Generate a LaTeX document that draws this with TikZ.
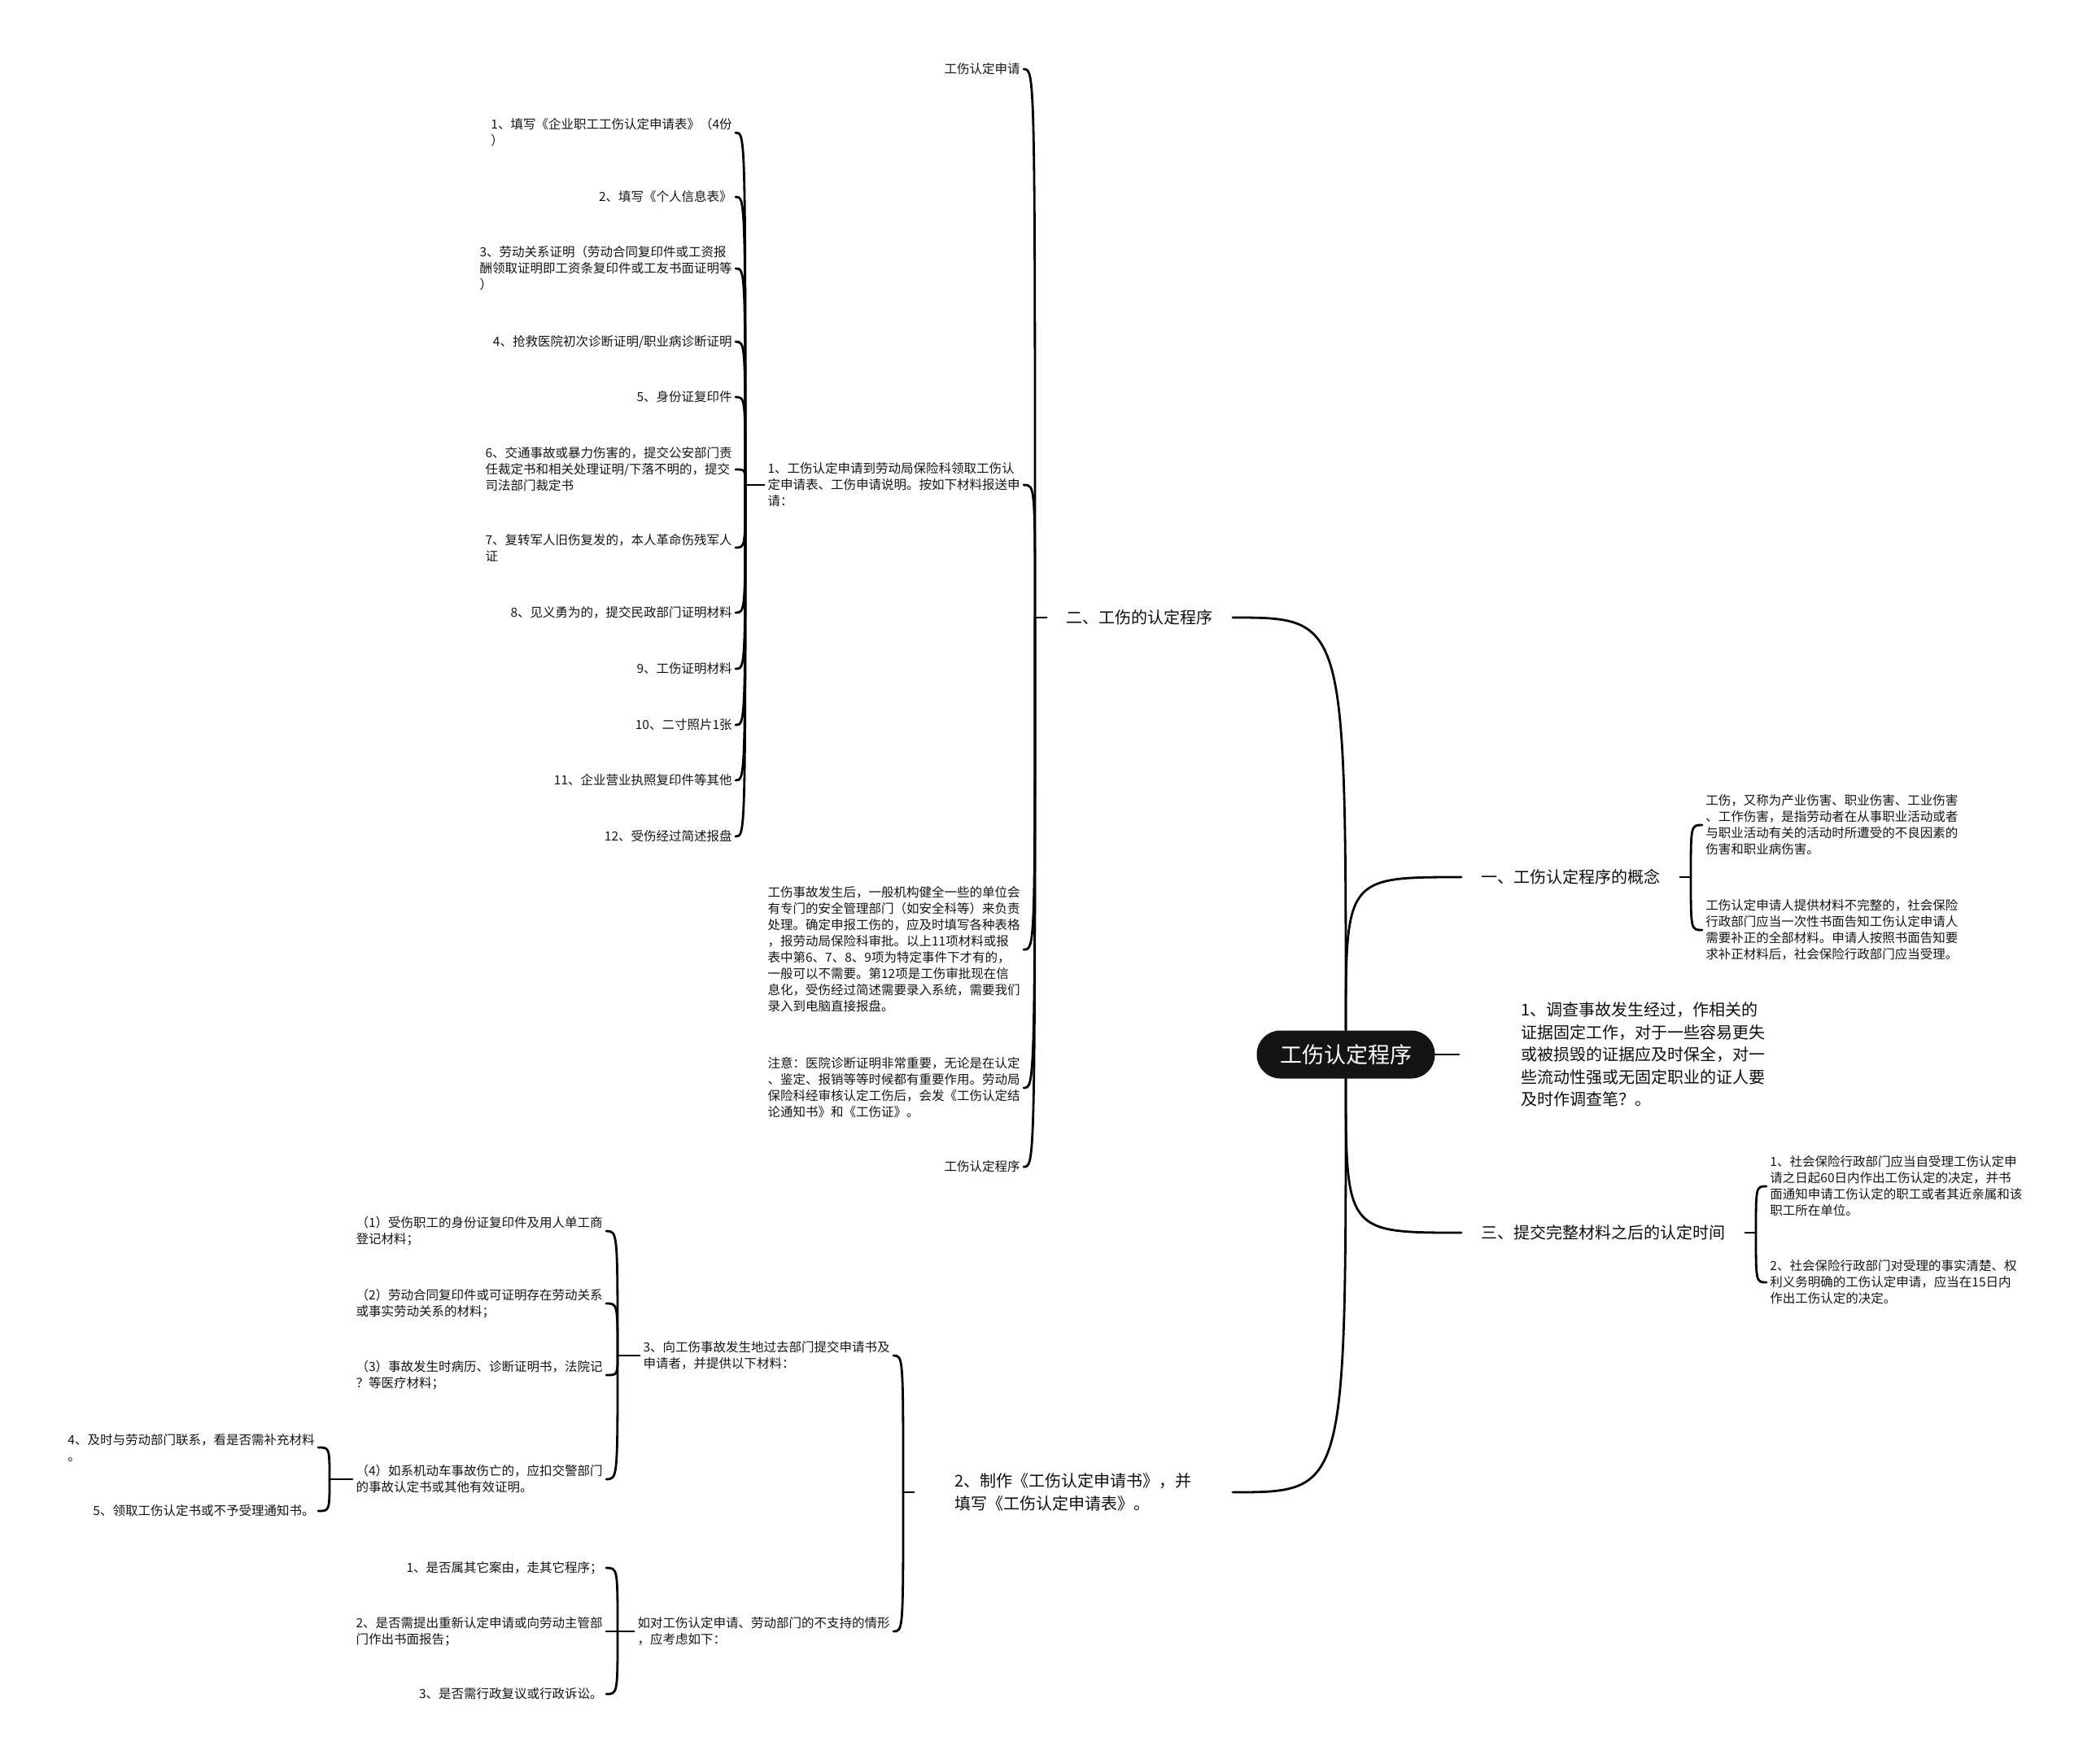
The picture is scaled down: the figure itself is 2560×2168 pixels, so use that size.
\documentclass[tikz,border=0pt]{standalone}
\usepackage{fontspec}
\setmainfont{Noto Sans CJK SC}

\begin{document}
\begin{tikzpicture}[x=0.5pt, y=-0.5pt,
        link/.style={line width=1.4pt, line cap=round},
        small/.style={font=\fontsize{7.75}{10}\selectfont, align=left, inner sep=2pt, text=black!92},
        mid/.style={font=\fontsize{10}{13.75}\selectfont, align=left, inner xsep=12pt, inner ysep=2pt, text=black!95},
        rootbox/.style={fill=black!92, text=white, rounded corners=14.5pt, minimum width=109.5pt,
            minimum height=29.5pt, font=\fontsize{13.5}{16}\selectfont}]

        \useasboundingbox (0,0) rectangle (2560,2168);

        \node[rootbox] (root) at (1654,1296) {工伤认定程序};

        \node[mid, anchor=west] (yi) at (1796,1078) {一、工伤认定程序的概念};
        \node[mid, anchor=east] (er) at (1515,759) {二、工伤的认定程序};
        \node[mid, anchor=west, inner xsep=38pt] (diaocha) at (1793,1296)
            {1、调查事故发生经过，作相关的\\证据固定工作，对于一些容易更失\\或被损毁的证据应及时保全，对一\\些流动性强或无固定职业的证人要\\及时作调查笔？。};
        \node[mid, anchor=west] (san) at (1796,1515) {三、提交完整材料之后的认定时间};
        \node[mid, anchor=east, inner xsep=25pt] (zhizuo) at (1515,1834)
            {2、制作《工伤认定申请书》，并\\填写《工伤认定申请表》。};

        \draw[link] (root.north) .. controls (root.north |- yi.west) .. (yi.west);
        \draw[link] (root.north) .. controls (root.north |- er.east) .. (er.east);
        \draw[link] (root.east) -- (diaocha.west);
        \draw[link] (root.south) .. controls (root.south |- san.west) .. (san.west);
        \draw[link] (root.south) .. controls (root.south |- zhizuo.east) .. (zhizuo.east);

        \coordinate (byi) at (2078,1078);
        \coordinate (ber) at (1272,759);
        \coordinate (bsan) at (2158,1515);
        \coordinate (bzz) at (1110,1834);
        \coordinate (bcl) at (916,596);
        \coordinate (btj) at (759,1666);
        \coordinate (blx) at (405,1818);
        \coordinate (bkl) at (759,2005);

        \node[small, anchor=west] (yi1) at (2092,1014) {工伤，又称为产业伤害、职业伤害、工业伤害\\、工作伤害，是指劳动者在从事职业活动或者\\与职业活动有关的活动时所遭受的不良因素的\\伤害和职业病伤害。};
        \node[small, anchor=west] (yi2) at (2092,1143) {工伤认定申请人提供材料不完整的，社会保险\\行政部门应当一次性书面告知工伤认定申请人\\需要补正的全部材料。申请人按照书面告知要\\求补正材料后，社会保险行政部门应当受理。};

        \node[small, anchor=west] (san1) at (2171,1458) {1、社会保险行政部门应当自受理工伤认定申\\请之日起60日内作出工伤认定的决定，并书\\面通知申请工伤认定的职工或者其近亲属和该\\职工所在单位。};
        \node[small, anchor=west] (san2) at (2171,1576) {2、社会保险行政部门对受理的事实清楚、权\\利义务明确的工伤认定申请，应当在15日内\\作出工伤认定的决定。};

        \node[small, anchor=east] (er1) at (1258,85) {工伤认定申请};
        \node[small, anchor=east] (er2) at (1258,596) {1、工伤认定申请到劳动局保险科领取工伤认\\定申请表、工伤申请说明。按如下材料报送申\\请：};
        \node[small, anchor=east] (er3) at (1258,1167) {工伤事故发生后，一般机构健全一些的单位会\\有专门的安全管理部门（如安全科等）来负责\\处理。确定申报工伤的，应及时填写各种表格\\，报劳动局保险科审批。以上11项材料或报\\表中第6、7、8、9项为特定事件下才有的，\\一般可以不需要。第12项是工伤审批现在信\\息化，受伤经过简述需要录入系统，需要我们\\录入到电脑直接报盘。};
        \node[small, anchor=east] (er4) at (1258,1337) {注意：医院诊断证明非常重要，无论是在认定\\、鉴定、报销等等时候都有重要作用。劳动局\\保险科经审核认定工伤后，会发《工伤认定结\\论通知书》和《工伤证》。};
        \node[small, anchor=east] (er5) at (1258,1434) {工伤认定程序};

        \node[small, anchor=east] (cl1) at (904,163) {1、填写《企业职工工伤认定申请表》（4份\\）};
        \node[small, anchor=east] (cl2) at (904,242) {2、填写《个人信息表》};
        \node[small, anchor=east] (cl3) at (904,330) {3、劳动关系证明（劳动合同复印件或工资报\\酬领取证明即工资条复印件或工友书面证明等\\）};
        \node[small, anchor=east] (cl4) at (904,420) {4、抢救医院初次诊断证明/职业病诊断证明};
        \node[small, anchor=east] (cl5) at (904,488) {5、身份证复印件};
        \node[small, anchor=east] (cl6) at (904,577) {6、交通事故或暴力伤害的，提交公安部门责\\任裁定书和相关处理证明/下落不明的，提交\\司法部门裁定书};
        \node[small, anchor=east] (cl7) at (904,673) {7、复转军人旧伤复发的，本人革命伤残军人\\证};
        \node[small, anchor=east] (cl8) at (904,753) {8、见义勇为的，提交民政部门证明材料};
        \node[small, anchor=east] (cl9) at (904,822) {9、工伤证明材料};
        \node[small, anchor=east] (cl10) at (904,891) {10、二寸照片1张};
        \node[small, anchor=east] (cl11) at (904,959) {11、企业营业执照复印件等其他};
        \node[small, anchor=east] (cl12) at (904,1028) {12、受伤经过简述报盘};

        \node[small, anchor=east] (zz1) at (1098,1666) {3、向工伤事故发生地过去部门提交申请书及\\申请者，并提供以下材料：};
        \node[small, anchor=east] (zz2) at (1098,2005) {如对工伤认定申请、劳动部门的不支持的情形\\，应考虑如下：};

        \node[small, anchor=east] (tj1) at (745,1513) {（1）受伤职工的身份证复印件及用人单工商\\登记材料；};
        \node[small, anchor=east] (tj2) at (745,1602) {（2）劳动合同复印件或可证明存在劳动关系\\或事实劳动关系的材料；};
        \node[small, anchor=east] (tj3) at (745,1690) {（3）事故发生时病历、诊断证明书，法院记\\？等医疗材料；};
        \node[small, anchor=east] (tj4) at (745,1818) {（4）如系机动车事故伤亡的，应扣交警部门\\的事故认定书或其他有效证明。};

        \node[small, anchor=east] (lx1) at (391,1779) {4、及时与劳动部门联系，看是否需补充材料\\。};
        \node[small, anchor=east] (lx2) at (391,1857) {5、领取工伤认定书或不予受理通知书。};

        \node[small, anchor=east] (kl1) at (745,1927) {1、是否属其它案由，走其它程序；};
        \node[small, anchor=east] (kl2) at (745,2005) {2、是否需提出重新认定申请或向劳动主管部\\门作出书面报告；};
        \node[small, anchor=east] (kl3) at (745,2082) {3、是否需行政复议或行政诉讼。};

        \draw[link] (yi.east) -- (byi);
        \draw[link] (er.west) -- (ber);
        \draw[link] (san.east) -- (bsan);
        \draw[link] (zhizuo.west) -- (bzz);
        \draw[link] (er2.west) -- (bcl);
        \draw[link] (zz1.west) -- (btj);
        \draw[link] (tj4.west) -- (blx);
        \draw[link] (zz2.west) -- (bkl);

        \foreach \k in {yi1,yi2}
            \draw[link] (byi) .. controls (byi |- \k.west) and (byi |- \k.west) .. (\k.west);
        \foreach \k in {san1,san2}
            \draw[link] (bsan) .. controls (bsan |- \k.west) and (bsan |- \k.west) .. (\k.west);
        \foreach \k in {er1,er2,er3,er4,er5}
            \draw[link] (ber) .. controls (ber |- \k.east) and (ber |- \k.east) .. (\k.east);
        \foreach \k in {cl1,cl2,cl3,cl4,cl5,cl6,cl7,cl8,cl9,cl10,cl11,cl12}
            \draw[link] (bcl) .. controls (bcl |- \k.east) and (bcl |- \k.east) .. (\k.east);
        \foreach \k in {zz1,zz2}
            \draw[link] (bzz) .. controls (bzz |- \k.east) and (bzz |- \k.east) .. (\k.east);
        \foreach \k in {tj1,tj2,tj3,tj4}
            \draw[link] (btj) .. controls (btj |- \k.east) and (btj |- \k.east) .. (\k.east);
        \foreach \k in {lx1,lx2}
            \draw[link] (blx) .. controls (blx |- \k.east) and (blx |- \k.east) .. (\k.east);
        \foreach \k in {kl1,kl2,kl3}
            \draw[link] (bkl) .. controls (bkl |- \k.east) and (bkl |- \k.east) .. (\k.east);

    \end{tikzpicture}
\end{document}
